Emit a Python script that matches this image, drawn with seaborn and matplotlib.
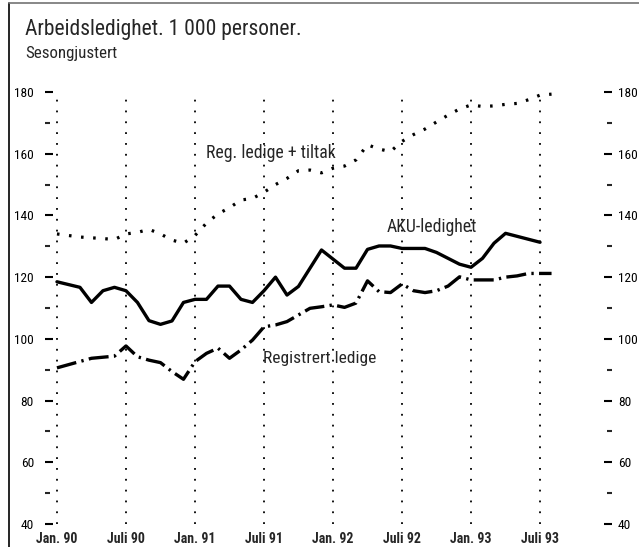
import pandas as pd
import matplotlib.pyplot as plt
import seaborn as sns
from matplotlib.lines import Line2D

# Måneder regnet fra jan. 1990 (0 = jan. 90)
aku_mnd = [0, 2, 3, 4, 5, 6, 7, 8, 9, 10, 11, 12, 13, 14, 15, 16, 17, 18, 19, 20, 21,
           23, 25, 26, 27, 28, 29, 30, 32, 33, 35, 36, 37, 38, 39, 42]
aku = [118.5, 116.7, 111.8, 115.6, 116.7, 115.6, 111.8, 105.9, 104.7, 105.8, 111.8,
       112.8, 112.8, 117.1, 117.1, 112.8, 111.8, 115.6, 120.0, 114.2, 117.0,
       128.8, 122.9, 122.9, 129.0, 130.1, 130.1, 129.3, 129.3, 128.0, 124.2, 123.2,
       126.1, 131.0, 134.2, 131.3]

reg_mnd = [0, 3, 5, 6, 7, 8, 9, 10, 11, 12, 13, 14, 15, 16, 17, 18, 19, 20, 22, 23, 24,
           25, 26, 27, 28, 29, 30, 31, 32, 33, 34, 35, 36, 38, 39, 40, 41, 43]
reg = [90.6, 93.7, 94.4, 97.7, 94.2, 93.1, 92.3, 89.4, 86.9, 92.6, 95.3, 97.0, 93.7,
       96.4, 99.6, 103.9, 104.5, 105.6, 109.9, 110.4, 111.0, 110.2, 111.6, 118.8,
       115.3, 115.0, 117.8, 115.6, 115.0, 115.6, 117.1, 120.1, 119.1, 119.1, 120.0,
       120.4, 121.2, 121.2]

tiltak_mnd = [0, 2, 4, 5, 6, 7, 8, 9, 10, 11, 12, 13, 14, 15, 16, 17, 18, 19, 20, 21,
              22, 23, 24, 25, 26, 27, 28, 29, 30, 31, 32, 33, 34, 35, 36, 37, 38, 39,
              40, 41, 42, 43]
tiltak = [134.0, 133.0, 132.5, 132.2, 134.0, 134.5, 135.5, 134.0, 132.0, 131.0, 133.5,
          137.5, 140.5, 142.5, 145.0, 145.5, 147.5, 150.0, 152.0, 154.5, 154.7, 153.8,
          155.3, 156.0, 158.0, 162.9, 161.5, 160.7, 164.0, 166.2, 168.0, 170.3, 172.5,
          174.5, 175.8, 175.3, 175.5, 176.0, 176.3, 177.5, 179.0, 179.3]

xtick_pos = [0, 6, 12, 18, 24, 30, 36, 42]
xtick_lab = ['Jan. 90', 'Juli 90', 'Jan. 91', 'Juli 91', 'Jan. 92', 'Juli 92',
             'Jan. 93', 'Juli 93']

sns.set_style('white')
plt.rcParams['font.family'] = ['Roboto Condensed', 'Liberation Sans Narrow',
                               'DejaVu Sans Condensed', 'Liberation Sans', 'DejaVu Sans']

fig = plt.figure(figsize=(6.39, 5.47), dpi=100)
ax = fig.add_axes([55 / 639, 23 / 547, 546 / 639, 432 / 547])

sns.lineplot(x=aku_mnd, y=aku, ax=ax, color='black', lw=2.4)
sns.lineplot(x=reg_mnd, y=reg, ax=ax, color='black', lw=2.4,
             linestyle=(0, (6, 1.6, 0.7, 1.6)))
sns.lineplot(x=tiltak_mnd, y=tiltak, ax=ax, color='black', lw=2.3,
             linestyle=(0, (0.8, 3.0)))

ax.set_xlim(-0.17, 47.3)
ax.set_ylim(40, 180)
ax.set_xticks(xtick_pos)
ax.set_xticklabels(xtick_lab, fontweight='bold', fontsize=10)
ax.tick_params(axis='x', length=0, pad=6)
ax.grid(axis='x', color='black', lw=1.3, linestyle=(0, (1, 5)))
ax.grid(axis='y', visible=False)

# pt = px * 0.72 ved dpi 100
ax2 = ax.twinx()
ax2.set_ylim(40, 180)
for a, side, off in [(ax, 'left', 7.2), (ax2, 'right', 7.9)]:
    for s in a.spines.values():
        s.set_visible(False)
    a.spines[side].set_position(('outward', off))
    a.set_yticks(range(40, 181, 20))
    a.set_yticks(range(50, 171, 20), minor=True)
    a.tick_params(axis='y', which='major', direction='in', length=5.8, width=1.5,
                  labelsize=9.6, colors='black')
    a.tick_params(axis='y', which='minor', direction='in', length=3.6, width=1.5)
    for t in (a.yaxis.get_major_ticks()[0], a.yaxis.get_major_ticks()[-1]):
        t.tick1line.set_visible(False)
        t.tick2line.set_visible(False)
ax.tick_params(axis='y', which='both', left=True, pad=8)
ax2.tick_params(axis='y', which='both', right=True, pad=4.3)
ax.set_xlabel('')

ax.text(12.96, 160.2, 'Reg. ledige + tiltak', fontsize=12.8, va='center')
ax.text(28.7, 136.2, 'AKU-ledighet', fontsize=12.8, va='center')
ax.text(17.9, 93.5, 'Registrert ledige', fontsize=12.6, va='center')

fig.text(25 / 639, 1 - 19 / 547, 'Arbeidsledighet. 1 000 personer.', fontsize=15.5, va='top')
fig.text(25 / 639, 1 - 46 / 547, 'Sesongjustert', fontsize=12.2, va='top')

fig.add_artist(Line2D([8.5 / 639, 8.5 / 639], [0, 1 - 3 / 547], color='black', lw=1.2))
fig.add_artist(Line2D([8.5 / 639, 1], [1 - 3 / 547, 1 - 3 / 547], color='0.45', lw=1.2))

fig.savefig('out.png', dpi=100)
